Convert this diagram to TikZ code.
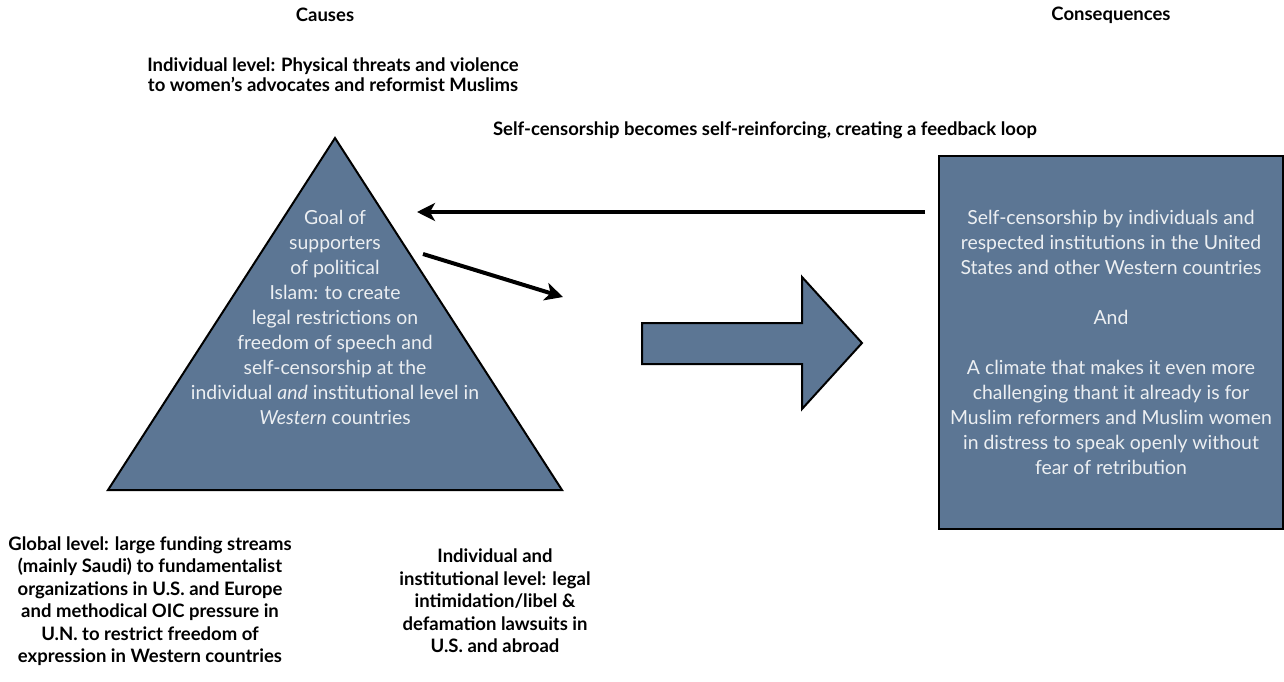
\documentclass[tikz,border=0pt]{standalone}
\usepackage{fontspec}
\setmainfont{Lato}
\usetikzlibrary{arrows.meta}

\definecolor{slate}{RGB}{92,118,148}
\definecolor{chalk}{RGB}{236,239,242}

\begin{document}
\begin{tikzpicture}[x=1pt, y=-1pt,
  caption/.style={font=\bfseries\fontsize{18.5}{22.5}\selectfont, align=center},
  inside/.style={font=\fontsize{19.4}{25}\selectfont, text=chalk, align=center},
  slab/.style={fill=slate, draw=black, line width=2pt, line join=miter},
  link/.style={line width=4pt, -{Stealth[length=18pt, width=18pt, inset=5pt]}}]

\useasboundingbox (0,0) rectangle (1284,682);

\coordinate (apex) at (335,138);
\coordinate (baseL) at (108,490);
\coordinate (baseR) at (562,490);

\draw[slab] (apex) -- (baseL) -- (baseR) -- cycle;
\node[inside] (goal) at (335,317) {Goal of\\supporters\\of political\\Islam: to create\\legal restrictions on\\freedom of speech and\\self-censorship at the\\individual \emph{and} institutional level in\\\emph{Western} countries};

\node[slab, inside, minimum width=344pt, minimum height=373pt] (result) at (1111,342.5) {Self-censorship by individuals and\\respected institutions in the United\\States and other Western countries\\[25pt]And\\[25pt]A climate that makes it even more\\challenging thant it already is for\\Muslim reformers and Muslim women\\in distress to speak openly without\\fear of retribution};

\draw[slab] (642,323) -- (802,323) -- (802,277) -- (862,343) -- (802,409) -- (802,364) -- (642,364) -- cycle;

\coordinate (fbend) at (417,212);
\draw[link, shorten <=13pt] (result.west |- fbend) -- (fbend);

\coordinate (push) at (423,254);
\coordinate (pushend) at (563,297);
\draw[link] (push) -- (pushend);

\node[caption] (causes) at (325,15) {Causes};
\node[caption] (consequences) at (1111,15) {Consequences};
\node[caption] (threats) at (333,75) {Individual level: Physical threats and violence\\[-2.5pt]to women's advocates and reformist Muslims};
\node[caption] (loop) at (765,130) {Self-censorship becomes self-reinforcing, creating a feedback loop};
\node[caption] (funding) at (150,601) {Global level: large funding streams\\(mainly Saudi) to fundamentalist\\organizations in U.S. and Europe\\and methodical OIC pressure in\\U.N. to restrict freedom of\\expression in Western countries};
\node[caption] (lawsuits) at (495,601) {Individual and\\institutional level: legal\\intimidation/libel \&\\defamation lawsuits in\\U.S. and abroad};

\end{tikzpicture}
\end{document}
